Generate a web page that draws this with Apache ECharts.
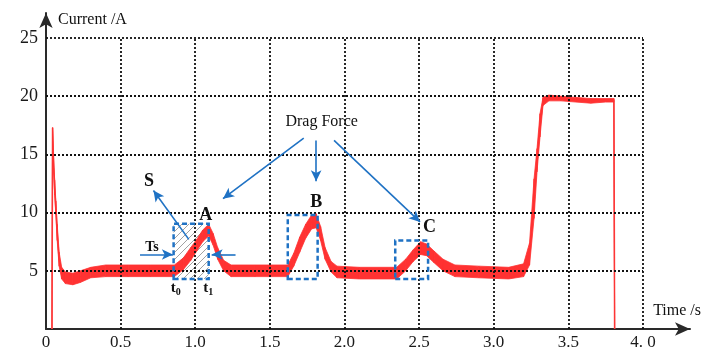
<!DOCTYPE html>
<html>
<head>
<meta charset="utf-8">
<script src="https://cdn.jsdelivr.net/npm/echarts@6/dist/echarts.min.js"></script>
<style>
  html, body { margin: 0; padding: 0; background: #fff; }
  #chart { width: 701px; height: 348px; }
</style>
</head>
<body>
<div id="chart"></div>
<script>
// measured current trace: time (s) and lower / upper edge of the noisy band (A)
const timeS = [0.040, 0.044, 0.050, 0.058, 0.066, 0.075, 0.088, 0.105, 0.13, 0.18, 0.23, 0.30, 0.40, 0.55, 0.70,
  0.86, 0.92, 0.97, 1.01, 1.05, 1.09, 1.12, 1.15, 1.19, 1.24, 1.40,
  1.62, 1.66, 1.70, 1.74, 1.78, 1.81, 1.84, 1.87, 1.91, 1.95, 2.10,
  2.35, 2.41, 2.46, 2.51, 2.55, 2.60, 2.66, 2.74, 2.90, 3.10,
  3.20, 3.24, 3.27, 3.29, 3.31, 3.33, 3.37, 3.45, 3.55, 3.65, 3.75, 3.805, 3.81]
const currentLow = [0, 17.3, 14.0, 11.5, 9.8, 7.6, 5.4, 4.3, 3.9, 3.8, 4.0, 4.4, 4.5, 4.5, 4.5,
  4.5, 5.1, 5.9, 6.7, 7.5, 8.0, 7.2, 6.0, 5.0, 4.5, 4.5,
  4.5, 5.4, 6.6, 7.8, 8.6, 8.7, 7.6, 6.0, 4.9, 4.4, 4.3,
  4.3, 5.0, 5.8, 6.4, 6.3, 5.7, 5.0, 4.5, 4.4, 4.3,
  4.5, 5.5, 9.5, 13.5, 16.5, 19.2, 19.6, 19.6, 19.5, 19.4, 19.5, 19.5, 0]
const currentHigh = [0, 17.3, 15.0, 12.8, 11.0, 9.0, 6.6, 5.3, 4.9, 4.8, 5.0, 5.3, 5.5, 5.5, 5.5,
  5.5, 6.1, 7.0, 7.7, 8.5, 9.0, 8.2, 7.0, 5.9, 5.5, 5.5,
  5.5, 6.5, 7.9, 9.0, 9.8, 9.9, 8.8, 7.0, 5.8, 5.4, 5.3,
  5.3, 6.0, 6.8, 7.5, 7.3, 6.7, 6.0, 5.5, 5.4, 5.3,
  5.6, 7.4, 12.9, 15.5, 18.5, 19.9, 20.1, 20.0, 19.9, 19.8, 19.8, 19.8, 0]

const xTicks = [0.5, 1.0, 1.5, 2.0, 2.5, 3.0, 3.5, 4.0]
const yTicks = [5, 10, 15, 20, 25]

// dashed boxes round the drag force peaks [[t0, i0], [t1, i1]]
const boxA = [[0.855, 4.3], [1.09, 9.05]]
const boxB = [[1.62, 4.3], [1.82, 9.8]]
const boxC = [[2.34, 4.3], [2.56, 7.6]]

// arrows [from, to]
const arrows = [
  [[1.727, 16.4], [1.186, 11.2]],
  [[1.81, 16.2], [1.81, 12.7]],
  [[1.93, 16.2], [2.506, 9.2]],
  [[0.957, 7.7], [0.72, 11.9]],
  [[0.63, 6.4], [0.85, 6.4]],
  [[1.27, 6.4], [1.11, 6.4]]
]

const notes = [
  { text: 'Drag Force', at: [1.847, 17.8], size: 16, bold: false },
  { text: 'A', at: [1.07, 9.76], size: 18, bold: true },
  { text: 'B', at: [1.81, 10.9], size: 18, bold: true },
  { text: 'C', at: [2.57, 8.7], size: 18, bold: true },
  { text: 'S', at: [0.69, 12.7], size: 18, bold: true },
  { text: 'Ts', at: [0.71, 7.0], size: 14, bold: true },
  { text: '{m|t}{s|0}', at: [0.87, 3.5], size: 15, bold: true },
  { text: '{m|t}{s|1}', at: [1.087, 3.5], size: 15, bold: true }
]

const serif = '"Liberation Serif", "Times New Roman", serif'
const red = '#ff3232'
const blue = '#1f72c4'

const centerPts = timeS.map((t, i) => [t, (currentLow[i] + currentHigh[i]) / 2])
const bandRows = timeS.map((t, i) => [t, currentLow[i], currentHigh[i]])

// hatch pattern for the S area
const hatch = document.createElement('canvas')
hatch.width = 7
hatch.height = 7
const hctx = hatch.getContext('2d')
hctx.strokeStyle = '#8a8a8a'
hctx.lineWidth = 0.8
hctx.beginPath()
hctx.moveTo(-1, 8)
hctx.lineTo(8, -1)
hctx.stroke()

const gridLines = []
yTicks.forEach(v => {
  gridLines.push([{ coord: [0, v] }, { coord: [4, v] }])
})
xTicks.forEach(v => {
  gridLines.push([{ coord: [v, 0] }, { coord: [v, 25] }])
})
const arrowLines = arrows.map(a => [
  { coord: a[0], symbol: 'none', lineStyle: { color: blue, width: 1.6, type: 'solid' } },
  { coord: a[1], symbol: 'arrow', symbolSize: [8, 11] }
])

const box = b => [{ coord: b[0] }, { coord: b[1] }]

// band between low and high edge, one quad per sample step
function renderBand(params, api) {
  const i = params.dataIndex
  if (i >= bandRows.length - 1) return null
  const a = bandRows[i]
  const b = bandRows[i + 1]
  const pts = [
    api.coord([a[0], a[2]]),
    api.coord([b[0], b[2]]),
    api.coord([b[0], b[1]]),
    api.coord([a[0], a[1]])
  ]
  return {
    type: 'polygon',
    shape: { points: pts },
    style: { fill: red, stroke: red, lineWidth: 0.8 }
  }
}

var chart = echarts.init(document.getElementById('chart'))

chart.setOption({
  animation: false,
  grid: { left: 46, right: 11, top: 13, bottom: 19, outerBoundsMode: 'none' },
  xAxis: {
    type: 'value',
    min: 0,
    max: 4.315,
    interval: 0.5,
    axisLine: { lineStyle: { color: '#2a2a2a', width: 2 }, symbol: ['none', 'arrow'], symbolSize: [10, 15] },
    axisTick: { show: false },
    splitLine: { show: false },
    axisLabel: {
      fontFamily: serif,
      fontSize: 17,
      color: '#1a1a1a',
      margin: 5,
      formatter: v => {
        if (Math.abs(v * 2 - Math.round(v * 2)) > 1e-6 || v > 4.01) return ''
        if (v === 0) return '0'
        if (v === 4) return '4. 0'
        return v.toFixed(1)
      }
    }
  },
  yAxis: {
    type: 'value',
    min: 0,
    max: 27.15,
    interval: 5,
    axisLine: { show: true, lineStyle: { color: '#2a2a2a', width: 2 }, symbol: ['none', 'arrow'], symbolSize: [10, 15] },
    axisTick: { show: false },
    splitLine: { show: false },
    axisLabel: {
      fontFamily: serif,
      fontSize: 18,
      color: '#1a1a1a',
      margin: 8,
      formatter: v => (v > 0 && v <= 25 && v % 5 === 0) ? String(v) : ''
    }
  },
  series: [
    {
      name: 'trace',
      type: 'line',
      data: centerPts,
      showSymbol: false,
      silent: true,
      z: 2,
      lineStyle: { color: '#f55a5a', width: 1.6 },
      markArea: {
        silent: true,
        z: 1,
        itemStyle: { color: { image: hatch, repeat: 'repeat' } },
        data: [box(boxA)]
      }
    },
    {
      name: 'band',
      type: 'custom',
      data: bandRows,
      encode: { x: 0, y: [1, 2] },
      silent: true,
      z: 3,
      renderItem: renderBand
    },
    {
      name: 'marks',
      type: 'line',
      data: centerPts,
      showSymbol: false,
      silent: true,
      z: 4,
      lineStyle: { opacity: 0 },
      markLine: {
        silent: true,
        symbol: ['none', 'none'],
        symbolSize: 9,
        label: { show: false },
        lineStyle: { color: '#111', width: 1.8, type: [2, 2] },
        data: gridLines.concat(arrowLines)
      },
      markArea: {
        silent: true,
        z: 6,
        itemStyle: { color: 'rgba(0,0,0,0)', borderColor: blue, borderWidth: 2.5, borderType: [5, 3] },
        data: [box(boxA), box(boxB), box(boxC)]
      }
    }
  ]
})

const graphic = notes.map(n => {
  const p = chart.convertToPixel({ gridIndex: 0 }, n.at)
  const weight = n.bold ? 'bold' : 'normal'
  return {
    type: 'text',
    x: p[0],
    y: p[1],
    silent: true,
    z: 10,
    style: {
      text: n.text,
      fill: '#111',
      font: weight + ' ' + n.size + 'px ' + serif,
      align: 'center',
      verticalAlign: 'middle',
      rich: {
        m: { fontFamily: serif, fontSize: n.size, fontWeight: weight, fill: '#111' },
        s: { fontFamily: serif, fontSize: 10, fontWeight: weight, fill: '#111', padding: [8, 0, 0, 0] }
      }
    }
  }
})
graphic.push({
  type: 'text', left: 58, top: 12, silent: true,
  style: { text: 'Current /A', font: '16px ' + serif, fill: '#111' }
})
graphic.push({
  type: 'text', right: 0, top: 303, silent: true,
  style: { text: 'Time /s', font: '16px ' + serif, fill: '#111' }
})

chart.setOption({ graphic: graphic })
</script>
</body>
</html>
